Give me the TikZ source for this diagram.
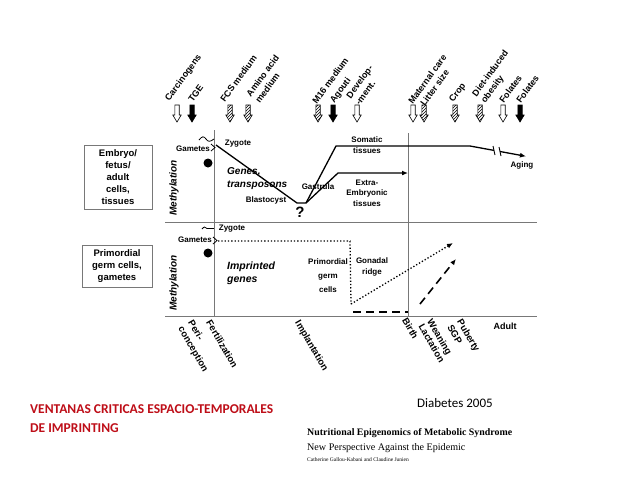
\documentclass[tikz,border=0pt]{standalone}
\usepackage{fontspec}
\setmainfont{Liberation Sans}
\newfontfamily\carlito{Carlito}
\newfontfamily\timesfont{Liberation Serif}
\usetikzlibrary{arrows.meta,patterns}
\definecolor{titlered}{RGB}{190,14,24}
\definecolor{axisgray}{RGB}{120,120,120}

\begin{document}
\begin{tikzpicture}[x=1pt,y=-1pt,
	lab/.style={font=\bfseries\fontsize{8}{11}\selectfont,inner sep=0pt,align=center},
	biglab/.style={font=\bfseries\itshape\fontsize{10}{13}\selectfont,inner sep=0pt,align=left,anchor=west},
	boxlab/.style={draw=axisgray,font=\bfseries\fontsize{9.5}{12}\selectfont,align=center,inner sep=0pt},
	methlab/.style={font=\bfseries\itshape\fontsize{10}{12}\selectfont,rotate=90,inner sep=0pt},
	toplab/.style={font=\bfseries\fontsize{9}{11}\selectfont,rotate=54,anchor=south west,inner sep=0pt,align=left},
	botlab/.style={font=\bfseries\fontsize{9.5}{11.5}\selectfont,rotate=-60,anchor=north west,inner sep=0pt,align=left},
	axis/.style={draw=axisgray,line width=0.6pt},
	curve/.style={line width=1.3pt,-{Latex[length=6pt,width=5pt]}},
	blkarr/.pic={\draw[pic actions,line width=0.6pt] (-2.2,0) -- (-2.2,10) -- (-4.2,10) -- (0,17) -- (4.2,10) -- (2.2,10) -- (2.2,0) -- cycle;},
	hatch/.style={pattern=north east lines}]
	\useasboundingbox (0,0) rectangle (640,480);

	% exposures
	\pic at (177,105) {blkarr};
	\pic[fill=black] at (192,105) {blkarr};
	\pic[hatch] at (230,105) {blkarr};
	\pic[hatch] at (248,105) {blkarr};
	\pic[hatch] at (318,105) {blkarr};
	\pic[fill=black] at (333,105) {blkarr};
	\pic at (357,105) {blkarr};
	\pic at (413,105) {blkarr};
	\pic[hatch] at (424,105) {blkarr};
	\pic[hatch] at (455,105) {blkarr};
	\pic[hatch] at (480,105) {blkarr};
	\pic at (503,105) {blkarr};
	\pic[fill=black] at (520,105) {blkarr};

	\node[toplab] (carc) at (171,103) {Carcinogens};
	\node[toplab] (tge) at (193,103) {TGE};
	\node[toplab] (fcs) at (225,103) {FCS medium};
	\node[toplab] (amino) at (260,104) {Amino acid\\medium};
	\node[toplab] (m16) at (317,105) {M16 medium};
	\node[toplab] (agouti) at (336,105) {Agouti};
	\node[toplab] (devel) at (360,106) {Develop-\\-ment.};
	\node[toplab] (mat) at (413,105) {Maternal care};
	\node[toplab] (litter) at (425,107) {Litter size};
	\node[toplab] (crop) at (455,104) {Crop};
	\node[toplab] (diet) at (487,105) {Diet-induced\\obesity};
	\node[toplab] (fol1) at (504,104) {Folates};
	\node[toplab] (fol2) at (521,104) {Folates};

	% axes
	\draw[axis] (165,222) -- (537,222);
	\draw[axis] (165,316) -- (537,316);
	\draw[axis] (214,130) -- (214,316);
	\draw[axis] (408,133) -- (408,316);

	% side boxes
	\node[boxlab,minimum width=68,minimum height=64] (embryo) at (118,177) {Embryo/\\fetus/\\adult\\cells,\\tissues};
	\node[boxlab,minimum width=70,minimum height=42] (germ) at (117,266) {Primordial\\germ cells,\\gametes};
	\node[methlab] (meth1) at (174,188) {Methylation};
	\node[methlab] (meth2) at (174,283) {Methylation};

	% somatic methylation
	\coordinate (zyg) at (216,145);
	\coordinate (blast) at (297,203);
	\coordinate (gast) at (306,203);
	\coordinate (som1) at (336,146);
	\coordinate (som2) at (470,146);
	\coordinate (brk1) at (494,150.4);
	\coordinate (brk2) at (500,151.5);
	\coordinate (aging) at (526,156.3);
	\coordinate (ext1) at (338,173);
	\coordinate (ext2) at (408,173);
	\draw[line width=1.3pt] (zyg) -- (blast) -- (gast) -- (som1) -- (som2) -- (brk1);
	\draw[curve] (brk2) -- (aging);
	\draw[line width=0.9pt] (493,146) -- (495,155) (499,147) -- (501,156);
	\draw[curve] (gast) -- (ext1) -- (ext2);

	\draw[line width=0.8pt] (199,140) .. controls (202,136) and (204,136) .. (206,139) .. controls (208,142) and (210,142) .. (214,139);
	\draw[line width=0.8pt] (211,144) -- (215,147.5) -- (211,151);
	\fill (208,163) circle (4.5);
	\node[lab] (gam1) at (193,149) {Gametes};
	\node[lab] (zyg1) at (238,144) {Zygote};
	\node[biglab] (genes) at (227,178.5) {Genes,\\transposons};
	\node[lab] (blastlab) at (266,200) {Blastocyst};
	\node[lab] (gastlab) at (318,187) {Gastrula};
	\node[lab,font=\bfseries\fontsize{15}{15}\selectfont] (quest) at (300,212) {?};
	\node[lab] (somlab) at (367,145) {Somatic\\tissues};
	\node[lab,font=\bfseries\fontsize{8}{10.5}\selectfont] (extlab) at (367,193) {Extra-\\Embryonic\\tissues};
	\node[lab] (aginglab) at (522,165) {Aging};

	% germ line methylation
	\coordinate (gam) at (218,241);
	\coordinate (pgc1) at (350,241);
	\coordinate (pgc2) at (351,304);
	\coordinate (ridge) at (453,243);
	\coordinate (dash1) at (353,312);
	\coordinate (dash2) at (408,312);
	\coordinate (dash3) at (420,304);
	\coordinate (dash4) at (456,259);
	\draw[line width=1.3pt,dotted] (gam) -- (pgc1) -- (pgc2);
	\draw[curve,dotted] (pgc2) -- (ridge);
	\draw[line width=1.6pt,dash pattern=on 8pt off 5pt] (dash1) -- (dash2);
	\draw[curve,line width=1.6pt,dash pattern=on 8pt off 5pt] (dash3) -- (dash4);

	\draw[line width=0.8pt] (202,229) .. controls (204,226.5) and (205,226.5) .. (207,228.5);
	\draw[line width=1.6pt] (207,228.5) -- (214,228.5);
	\draw[line width=0.8pt] (213,237) -- (217,240.5) -- (213,244);
	\fill (208,253) circle (4.5);
	\node[lab] (zyg2) at (232,229) {Zygote};
	\node[lab] (gam2) at (195,240) {Gametes};
	\node[biglab,font=\bfseries\itshape\fontsize{10.5}{13}\selectfont] (impr) at (227,273) {Imprinted\\genes};
	\node[lab,font=\bfseries\fontsize{8}{14}\selectfont] (pgclab) at (328,276) {Primordial\\germ\\cells};
	\node[lab] (gonlab) at (372,267) {Gonadal\\ridge};

	% time axis
	\node[botlab] (peri) at (194,319) {Peri-\\conception};
	\node[botlab] (fert) at (212,319) {Fertilization};
	\node[botlab] (impl) at (301,319) {Implantation};
	\node[botlab] (birth) at (408,317) {Birth};
	\node[botlab,font=\bfseries\fontsize{9.5}{10}\selectfont] (wean) at (433,318) {Weaning\\Lactation};
	\node[botlab] (pub) at (463,318) {Puberty\\SGP};
	\node[lab,font=\bfseries\fontsize{9}{11}\selectfont] (adult) at (505,326) {Adult};

	% footer
	\node[anchor=base west,inner sep=0pt,text=titlered,font=\carlito\bfseries\fontsize{13.5}{19}\selectfont] (title1) at (30,413) {VENTANAS CRITICAS ESPACIO-TEMPORALES};
	\node[anchor=base west,inner sep=0pt,text=titlered,font=\carlito\bfseries\fontsize{13.5}{19}\selectfont] (title2) at (30,432) {DE IMPRINTING};
	\node[anchor=base west,inner sep=0pt,font=\carlito\fontsize{13}{15}\selectfont] (diab) at (417,407) {Diabetes 2005};
	\node[anchor=base west,inner sep=0pt,font=\timesfont\bfseries\fontsize{9.9}{11}\selectfont] (paper) at (307,435) {Nutritional Epigenomics of Metabolic Syndrome};
	\node[anchor=base west,inner sep=0pt,font=\timesfont\fontsize{10.1}{11}\selectfont] (sub) at (307,450) {New Perspective Against the Epidemic};
	\node[anchor=base west,inner sep=0pt,font=\timesfont\fontsize{5.5}{6}\selectfont] (auth) at (307,461) {Catherine Gallou-Kabani and Claudine Junien};
\end{tikzpicture}
\end{document}
